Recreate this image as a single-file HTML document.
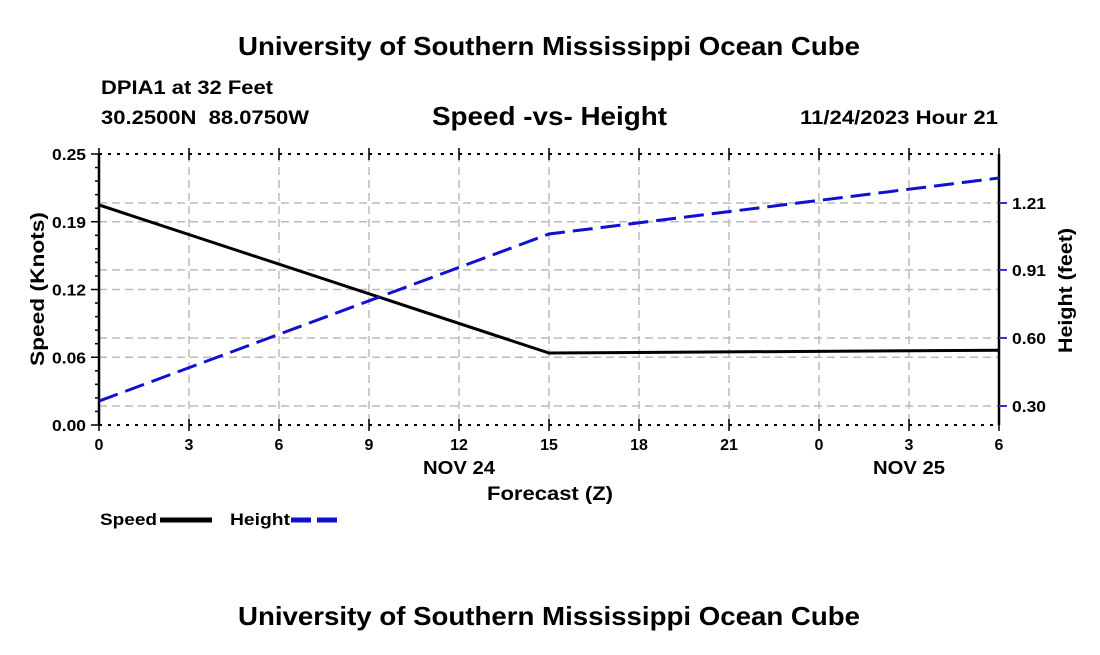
<!DOCTYPE html>
<html><head><meta charset="utf-8"><style>
body{margin:0;background:#fff;width:1100px;height:650px;overflow:hidden;font-family:"Liberation Sans",Arial,sans-serif}
svg text{font-family:"Liberation Sans",Arial,sans-serif;font-weight:bold}
</style></head><body>
<svg id="c" width="1100" height="650" xmlns="http://www.w3.org/2000/svg">
<text x="238" y="55" font-size="26" textLength="622" lengthAdjust="spacingAndGlyphs">University of Southern Mississippi Ocean Cube</text>
<text x="101" y="94" font-size="19" textLength="172" lengthAdjust="spacingAndGlyphs">DPIA1 at 32 Feet</text>
<text x="101" y="124" font-size="19" textLength="208" lengthAdjust="spacingAndGlyphs" xml:space="preserve">30.2500N  88.0750W</text>
<text x="432" y="125" font-size="26" textLength="235" lengthAdjust="spacingAndGlyphs">Speed -vs- Height</text>
<text x="800" y="124" font-size="19" textLength="198" lengthAdjust="spacingAndGlyphs">11/24/2023 Hour 21</text>
<text x="487" y="500" font-size="19" textLength="126" lengthAdjust="spacingAndGlyphs">Forecast (Z)</text>
<text transform="translate(44,366) rotate(-90)" font-size="19" textLength="154" lengthAdjust="spacingAndGlyphs">Speed (Knots)</text>
<text transform="translate(1072,353) rotate(-90)" font-size="19" textLength="125" lengthAdjust="spacingAndGlyphs">Height (feet)</text>
<g>
<text x="100" y="525" font-size="17" textLength="57" lengthAdjust="spacingAndGlyphs">Speed</text>
<line x1="160" y1="520" x2="212" y2="520" stroke="#000" stroke-width="5"/>
<text x="230" y="525" font-size="17" textLength="60" lengthAdjust="spacingAndGlyphs">Height</text>
<line x1="291" y1="520" x2="343" y2="520" stroke="#1010d0" stroke-width="5" stroke-dasharray="20,6"/>
</g>
<text x="238" y="625" font-size="26" textLength="622" lengthAdjust="spacingAndGlyphs">University of Southern Mississippi Ocean Cube</text>
<g id="plot"></g>
</svg>
<script>
const hours=[0,15,30];
const speed=[0.203,0.0664,0.069];
const height=[0.322,1.071,1.322];
const xTickLabels=["0","3","6","9","12","15","18","21","0","3","6"];
const leftTicks=[0,0.0625,0.125,0.1875,0.25];
const leftLabels=["0.00","0.06","0.12","0.19","0.25"];
const rightTicks=[0.30,0.605,0.91,1.21];
const rightLabels=["0.30","0.60","0.91","1.21"];
const dayLabels=[{h:12,t:"NOV 24"},{h:27,t:"NOV 25"}];
const L=99,R=999,T=154,B=425;
const xs=h=>L+(R-L)*h/30;
const ys=v=>B-(B-T)*v/0.25;
const yh=v=>406-(v-0.30)*(406-203)/0.91;
const g=document.getElementById('plot');
const NS='http://www.w3.org/2000/svg';
function mk(t,a,p){const e=document.createElementNS(NS,t);for(const k in a)e.setAttribute(k,a[k]);(p||g).appendChild(e);return e;}
for(let i=1;i<xTickLabels.length-1;i++){const e=mk('line',{x1:xs(i*3),x2:xs(i*3),y1:T,y2:B,stroke:'#bbb','stroke-width':1.5,'stroke-dasharray':'8,5'});

}
leftTicks.slice(1,-1).forEach(v=>{const e=mk('line',{x1:L,x2:R,y1:ys(v),y2:ys(v),stroke:'#bbb','stroke-width':1.5,'stroke-dasharray':'8,5'});

});
rightTicks.forEach(v=>{const e=mk('line',{x1:L,x2:R,y1:yh(v),y2:yh(v),stroke:'#bbb','stroke-width':1.5,'stroke-dasharray':'8,5'});

});
[[L,T,R,T],[L,B,R,B]].forEach(c=>{const e=mk('line',{x1:c[0],y1:c[1],x2:c[2],y2:c[3],stroke:'#000','stroke-width':2,'stroke-dasharray':'3,6'});

});
[[L,T,L,B],[R,T,R,B]].forEach(c=>{const e=mk('line',{x1:c[0],y1:c[1],x2:c[2],y2:c[3],stroke:'#000','stroke-width':2.5});

});
xTickLabels.forEach((t,i)=>{const x=xs(i*3);
mk('line',{x1:x,x2:x,y1:B-6,y2:B+6,stroke:'#000','stroke-width':1.5});
mk('line',{x1:x,x2:x,y1:T-6,y2:T+6,stroke:'#000','stroke-width':1.5});
const e=mk('text',{x:x,y:B+25,'font-size':16,'text-anchor':'middle'});e.textContent=t;

});
dayLabels.forEach(d=>{const e=mk('text',{x:xs(d.h)-36,y:B+49,'font-size':18,textLength:72,lengthAdjust:'spacingAndGlyphs'});e.textContent=d.t;

});
for(let k=0;k<=20;k++){const v=0.25*k/20;mk('line',{x1:L-(k%5?4:8),x2:L,y1:ys(v),y2:ys(v),stroke:'#000','stroke-width':1.5});}
leftTicks.forEach((v,i)=>{const e=mk('text',{x:L-13,y:ys(v)+6,'font-size':16,'text-anchor':'end',textLength:34,lengthAdjust:'spacingAndGlyphs'});e.textContent=leftLabels[i];

});
rightTicks.forEach((v,i)=>{mk('line',{x1:R,x2:R+8,y1:yh(v),y2:yh(v),stroke:'#3030d0','stroke-width':2});
const e=mk('text',{x:R+13,y:yh(v)+6,'font-size':16,textLength:34,lengthAdjust:'spacingAndGlyphs'});e.textContent=rightLabels[i];

});
const sp=mk('polyline',{points:hours.map((h,i)=>xs(h)+','+ys(speed[i])).join(' '),fill:'none',stroke:'#000','stroke-width':3});


const hl=mk('polyline',{points:hours.map((h,i)=>xs(h)+','+yh(height[i])).join(' '),fill:'none',stroke:'#1010d0','stroke-width':3,'stroke-dasharray':'20,8'});


</script>
</body></html>
